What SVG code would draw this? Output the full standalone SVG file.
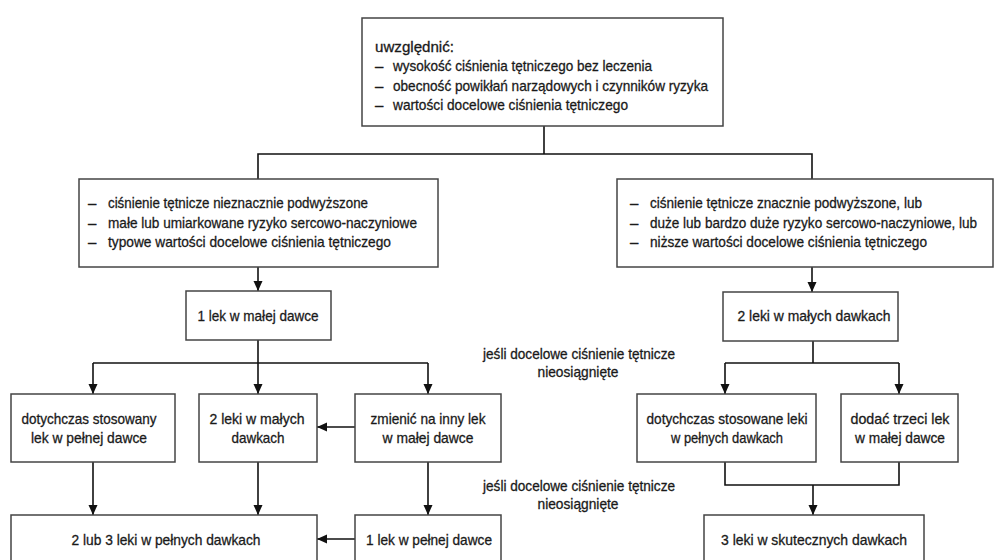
<svg xmlns="http://www.w3.org/2000/svg" width="996" height="560" viewBox="0 0 996 560">
<defs>
<marker id="ah" markerUnits="userSpaceOnUse" markerWidth="10" markerHeight="10" viewBox="0 0 10 9" refX="10" refY="4.5" orient="auto">
<path d="M0,0 L10,4.5 L0,9 z" fill="#111"/>
</marker>
<style>
.box{fill:#fff;stroke:#444;stroke-width:1.5}
.t{font-family:"Liberation Sans",Arial,sans-serif;font-size:15px;fill:#1a1a1a;stroke:#1a1a1a;stroke-width:0.3}
.c{text-anchor:middle}
.ln{fill:none;stroke:#111;stroke-width:1.6}
.ar{fill:none;stroke:#111;stroke-width:1.6;marker-end:url(#ah)}
</style>
</defs>
<rect width="996" height="560" fill="#fff"/>

<g id="connectors">
<polyline class="ln" points="544,126 544,154"/>
<polyline class="ln" points="258,179 258,154 812,154 812,179"/>
<line class="ar" x1="258" y1="267" x2="258" y2="291"/>
<line class="ar" x1="812" y1="267" x2="812" y2="292"/>
<polyline class="ln" points="258,340 258,363"/>
<polyline class="ln" points="93,363 428,363"/>
<line class="ar" x1="93" y1="363" x2="93" y2="394"/>
<line class="ar" x1="258" y1="363" x2="258" y2="394"/>
<line class="ar" x1="428" y1="363" x2="428" y2="394"/>
<line class="ar" x1="355" y1="427" x2="317" y2="427"/>
<line class="ar" x1="93" y1="462" x2="93" y2="515"/>
<line class="ar" x1="258" y1="462" x2="258" y2="515"/>
<line class="ar" x1="428" y1="462" x2="428" y2="515"/>
<line class="ar" x1="355" y1="539" x2="317" y2="539"/>
<polyline class="ln" points="813,341 813,363"/>
<polyline class="ln" points="725,363 899,363"/>
<line class="ar" x1="725" y1="363" x2="725" y2="394"/>
<line class="ar" x1="899" y1="363" x2="899" y2="394"/>
<polyline class="ln" points="725,462 725,485 899,485 899,462"/>
<line class="ar" x1="813" y1="485" x2="813" y2="515"/>
</g>

<g id="n-top">
<rect class="box" x="362" y="18" width="361" height="108"/>
<text class="t" x="375" y="52" textLength="79" lengthAdjust="spacingAndGlyphs">uwzględnić:</text>
<text class="t" x="375" y="71">–</text>
<text class="t" x="393" y="71" textLength="259" lengthAdjust="spacingAndGlyphs">wysokość ciśnienia tętniczego bez leczenia</text>
<text class="t" x="375" y="91">–</text>
<text class="t" x="393" y="91" textLength="315" lengthAdjust="spacingAndGlyphs">obecność powikłań narządowych i czynników ryzyka</text>
<text class="t" x="375" y="110">–</text>
<text class="t" x="393" y="110" textLength="235" lengthAdjust="spacingAndGlyphs">wartości docelowe ciśnienia tętniczego</text>
</g>

<g id="n-left">
<rect class="box" x="79" y="179" width="359" height="88"/>
<text class="t" x="88" y="208">–</text>
<text class="t" x="108" y="208" textLength="260" lengthAdjust="spacingAndGlyphs">ciśnienie tętnicze nieznacznie podwyższone</text>
<text class="t" x="88" y="228">–</text>
<text class="t" x="108" y="228" textLength="309" lengthAdjust="spacingAndGlyphs">małe lub umiarkowane ryzyko sercowo-naczyniowe</text>
<text class="t" x="88" y="247">–</text>
<text class="t" x="108" y="247" textLength="283" lengthAdjust="spacingAndGlyphs">typowe wartości docelowe ciśnienia tętniczego</text>
</g>

<g id="n-right">
<rect class="box" x="617" y="179" width="376" height="88"/>
<text class="t" x="630" y="208">–</text>
<text class="t" x="650" y="208" textLength="272" lengthAdjust="spacingAndGlyphs">ciśnienie tętnicze znacznie podwyższone, lub</text>
<text class="t" x="630" y="228">–</text>
<g transform="translate(650,228) scale(0.88,1)">
<text class="t" x="0" y="0" textLength="371.6" lengthAdjust="spacingAndGlyphs">duże lub bardzo duże ryzyko sercowo-naczyniowe, lub</text>
</g>
<text class="t" x="630" y="247">–</text>
<text class="t" x="650" y="247" textLength="277" lengthAdjust="spacingAndGlyphs">niższe wartości docelowe ciśnienia tętniczego</text>
</g>

<g id="n-1lek">
<rect class="box" x="186" y="291" width="145" height="49"/>
<text class="t c" x="258" y="321" textLength="121" lengthAdjust="spacingAndGlyphs">1 lek w małej dawce</text>
</g>

<g id="n-2leki">
<rect class="box" x="723" y="292" width="175" height="49"/>
<text class="t c" x="814" y="321" textLength="153" lengthAdjust="spacingAndGlyphs">2 leki w małych dawkach</text>
</g>

<g id="lbl1">
<text class="t c" x="579" y="359" textLength="192" lengthAdjust="spacingAndGlyphs">jeśli docelowe ciśnienie tętnicze</text>
<text class="t c" x="578" y="377" textLength="81" lengthAdjust="spacingAndGlyphs">nieosiągnięte</text>
</g>

<g id="n-a">
<rect class="box" x="11" y="394" width="164" height="68"/>
<text class="t c" x="89" y="424" textLength="135" lengthAdjust="spacingAndGlyphs">dotychczas stosowany</text>
<text class="t c" x="89" y="443" textLength="116" lengthAdjust="spacingAndGlyphs">lek w pełnej dawce</text>
</g>

<g id="n-b">
<rect class="box" x="199" y="394" width="118" height="68"/>
<text class="t c" x="257" y="424" textLength="95" lengthAdjust="spacingAndGlyphs">2 leki w małych</text>
<text class="t c" x="258" y="443" textLength="53" lengthAdjust="spacingAndGlyphs">dawkach</text>
</g>

<g id="n-c">
<rect class="box" x="355" y="394" width="146" height="68"/>
<text class="t c" x="428" y="424" textLength="115" lengthAdjust="spacingAndGlyphs">zmienić na inny lek</text>
<text class="t c" x="428" y="443" textLength="91" lengthAdjust="spacingAndGlyphs">w małej dawce</text>
</g>

<g id="n-f">
<rect class="box" x="637" y="394" width="179" height="68"/>
<text class="t c" x="727" y="424" textLength="161" lengthAdjust="spacingAndGlyphs">dotychczas stosowane leki</text>
<text class="t c" x="727" y="443" textLength="112" lengthAdjust="spacingAndGlyphs">w pełnych dawkach</text>
</g>

<g id="n-g">
<rect class="box" x="841" y="394" width="117" height="68"/>
<text class="t c" x="900" y="424" textLength="99" lengthAdjust="spacingAndGlyphs">dodać trzeci lek</text>
<text class="t c" x="900" y="443" textLength="90" lengthAdjust="spacingAndGlyphs">w małej dawce</text>
</g>

<g id="lbl2">
<text class="t c" x="579" y="491" textLength="192" lengthAdjust="spacingAndGlyphs">jeśli docelowe ciśnienie tętnicze</text>
<text class="t c" x="578" y="509" textLength="81" lengthAdjust="spacingAndGlyphs">nieosiągnięte</text>
</g>

<g id="n-d">
<rect class="box" x="11" y="515" width="306" height="60"/>
<text class="t c" x="166" y="545" textLength="189" lengthAdjust="spacingAndGlyphs">2 lub 3 leki w pełnych dawkach</text>
</g>

<g id="n-e">
<rect class="box" x="355" y="515" width="146" height="60"/>
<text class="t c" x="429" y="545" textLength="126" lengthAdjust="spacingAndGlyphs">1 lek w pełnej dawce</text>
</g>

<g id="n-h">
<rect class="box" x="704" y="515" width="220" height="60"/>
<text class="t c" x="814" y="545" textLength="186" lengthAdjust="spacingAndGlyphs">3 leki w skutecznych dawkach</text>
</g>
</svg>
